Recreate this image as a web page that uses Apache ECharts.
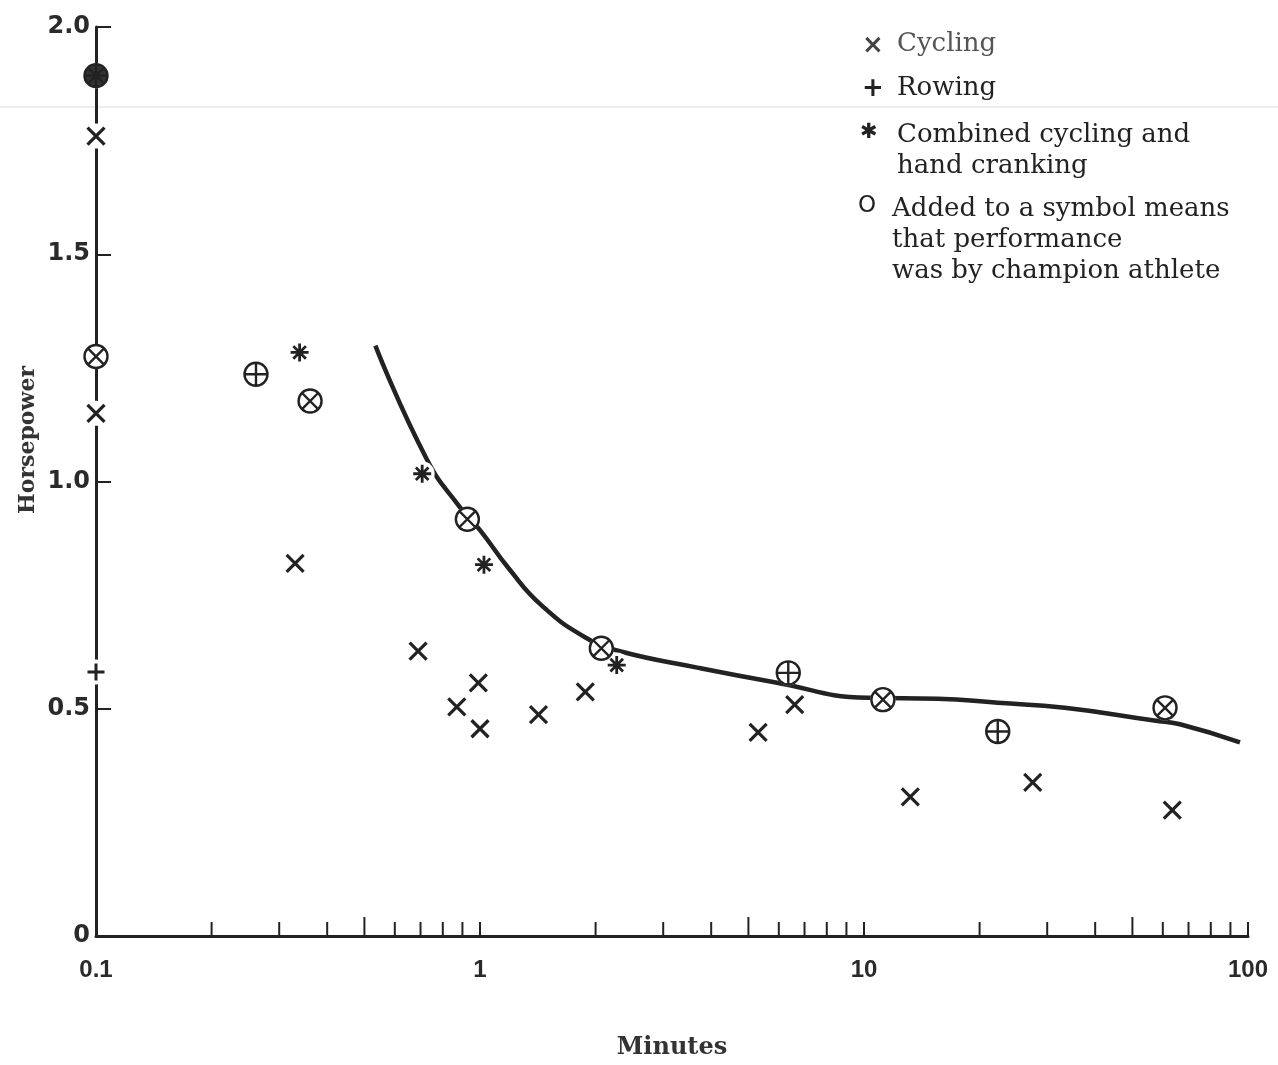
<!DOCTYPE html>
<html>
<head>
<meta charset="utf-8">
<script src="https://cdn.jsdelivr.net/npm/echarts@6/dist/echarts.min.js"></script>
<style>
  html, body { margin: 0; padding: 0; background: #fff; }
  #chart { width: 1278px; height: 1065px; }
</style>
</head>
<body>
<div id="chart"></div>
<script>
// values: [minutes, horsepower]
var cycling = [
	[0.1, 1.76], [0.1, 1.15], [0.33, 0.82], [0.69, 0.627], [0.87, 0.504],
	[0.99, 0.557], [1.0, 0.456], [1.42, 0.487], [1.88, 0.537], [5.3, 0.448],
	[6.6, 0.509], [13.2, 0.306], [27.5, 0.338], [63.5, 0.277]
];
var rowing = [[0.1, 0.581]];
var combined = [[0.339, 1.284], [0.707, 1.017], [1.024, 0.817], [2.27, 0.596]];
var champCycling = [
	[0.1, 1.275], [0.361, 1.177], [0.927, 0.917], [2.07, 0.633], [11.2, 0.52], [60.8, 0.502]
];
var champRowing = [[0.261, 1.236], [6.35, 0.579], [22.3, 0.45]];
var champCombined = [[0.1, 1.893]];

// the hand-drawn trend curve
var curveX = [0.534, 0.728, 0.882, 1.0, 1.19, 1.449, 1.897, 2.3, 3.71, 5.8, 10.24, 15.56, 22.3, 33.3, 57.0, 66.5, 95.3];
var curveY = [1.299, 1.048, 0.946, 0.893, 0.808, 0.727, 0.655, 0.627, 0.59, 0.559, 0.524, 0.522, 0.513, 0.502, 0.474, 0.466, 0.426];

var yTicks = [0, 0.5, 1.0, 1.5, 2.0];
var minorTicks = [0.2, 0.3, 0.4, 0.5, 0.6, 0.7, 0.8, 0.9, 2, 3, 4, 5, 6, 7, 8, 9, 20, 30, 40, 50, 60, 70, 80, 90];

var ink = '#222';
var ring = 'M0,10A10,10,0,1,1,20,10A10,10,0,1,1,0,10Z';
var crossPath = 'path://M0,0L20,20M20,0L0,20';
var plusPath = 'path://M10,0L10,20M0,10L20,10';
var starPath = 'path://M10,0L10,20M0,10L20,10M3,3L17,17M17,3L3,17';
var ringCross = 'path://' + ring + 'M3,3L17,17M17,3L3,17';
var ringPlus = 'path://' + ring + 'M10,0L10,20M0,10L20,10';
var ringStar = 'path://' + ring + 'M10,0L10,20M0,10L20,10M3,3L17,17M17,3L3,17';

var curve = curveX.map(function (x, i) { return [x, curveY[i]]; });
var allPoints = [].concat(cycling, rowing, combined, champCycling, champRowing, champCombined);

function marks(name, data, symbol, size, width, fill) {
	return {
		name: name,
		type: 'scatter',
		data: data,
		symbol: symbol,
		symbolSize: size,
		z: 5,
		silent: true,
		itemStyle: { color: fill || '#fff', borderColor: ink, borderWidth: width, opacity: 1 }
	};
}

var myChart = echarts.init(document.getElementById('chart'));
var option = {
	backgroundColor: '#fff',
	animation: false,
	grid: { left: 96, right: 30, top: 27, bottom: 122 },
	xAxis: {
		type: 'log',
		logBase: 10,
		min: 0.1,
		max: 100,
		name: 'Minutes',
		nameLocation: 'middle',
		nameGap: 100,
		nameTextStyle: { fontFamily: 'DejaVu Serif', fontSize: 24, fontWeight: 'bold', color: '#333' },
		axisLine: { lineStyle: { color: ink, width: 3 } },
		axisTick: { show: true, inside: true, length: 14, lineStyle: { color: ink, width: 2 } },
		axisLabel: {
			margin: 22,
			fontFamily: 'Liberation Sans',
			fontWeight: 'bold',
			fontSize: 24,
			color: '#2a2a2a',
			formatter: function (v) { return String(+v.toPrecision(3)); }
		},
		splitLine: { show: false }
	},
	yAxis: {
		type: 'value',
		min: 0,
		max: 2,
		interval: 0.5,
		axisLine: { lineStyle: { color: ink, width: 3 } },
		axisTick: { show: true, inside: true, length: 15, lineStyle: { color: ink, width: 2 } },
		axisLabel: {
			margin: 6,
			fontFamily: 'DejaVu Sans',
			fontWeight: 'bold',
			fontSize: 24,
			color: '#2a2a2a',
			formatter: function (v) { return v === 0 ? '0' : v.toFixed(1); }
		},
		splitLine: { show: false }
	},
	graphic: [
		{ type: 'line', z: -1, silent: true, shape: { x1: 0, y1: 107, x2: 1278, y2: 107 }, style: { stroke: '#dcdcdc', lineWidth: 1 } },
		{ type: 'text', x: 28, y: 440, rotation: Math.PI / 2, style: { text: 'Horsepower', font: 'bold 22px DejaVu Serif', fill: '#333', align: 'center', verticalAlign: 'middle' } },
		{ type: 'text', left: 862, top: 33, style: { text: '×', font: 'bold 26px DejaVu Sans', fill: '#444' } },
		{ type: 'text', left: 897, top: 31, style: { text: 'Cycling', font: '26px DejaVu Serif', fill: '#555' } },
		{ type: 'text', left: 862, top: 76, style: { text: '+', font: 'bold 26px DejaVu Sans', fill: ink } },
		{ type: 'text', left: 897, top: 75, style: { text: 'Rowing', font: '26px DejaVu Serif', fill: ink } },
		{ type: 'text', left: 860, top: 122, style: { text: '✱', font: '21px DejaVu Sans', fill: ink } },
		{ type: 'text', left: 897, top: 120, style: { text: 'Combined cycling and\nhand cranking', font: '26px DejaVu Serif', lineHeight: 31, fill: ink } },
		{ type: 'text', left: 858, top: 195, style: { text: 'O', font: '23px DejaVu Sans', fill: ink } },
		{ type: 'text', left: 892, top: 194, style: { text: 'Added to a symbol means\nthat performance\nwas by champion athlete', font: '26px DejaVu Serif', lineHeight: 31, fill: ink } }
	],
	series: [
		{
			name: 'Fit',
			type: 'line',
			data: curve,
			smooth: 0.5,
			showSymbol: false,
			silent: true,
			z: 2,
			lineStyle: { color: ink, width: 4.5 }
		},
		{
			// white halo so the curve and the axis break around each symbol
			name: 'mask',
			type: 'scatter',
			data: allPoints,
			symbol: 'circle',
			symbolSize: 25,
			silent: true,
			z: 4,
			itemStyle: { color: '#fff', opacity: 1 }
		},
		{
			name: 'minor ticks',
			type: 'custom',
			silent: true,
			z: 3,
			data: minorTicks.map(function (v) { return [v, 0]; }),
			renderItem: function (params, api) {
				var v = api.value(0);
				var p = api.coord([v, 0]);
				var lead = v / Math.pow(10, Math.floor(Math.log10(v) + 1e-9));
				var len = Math.abs(lead - 5) < 1e-6 ? 19 : 14;
				return {
					type: 'line',
					shape: { x1: p[0], y1: p[1], x2: p[0], y2: p[1] - len },
					style: { stroke: ink, lineWidth: 2 }
				};
			}
		},
		marks('Cycling', cycling, crossPath, 17, 3.2),
		marks('Rowing', rowing, plusPath, 17, 3),
		marks('Combined cycling and hand cranking', combined, starPath, 18, 2.8),
		marks('Cycling (champion)', champCycling, ringCross, 23, 2.4),
		marks('Rowing (champion)', champRowing, ringPlus, 23, 2.4),
		marks('Combined (champion)', champCombined, ringStar, 23, 2.4, '#333')
	]
};
myChart.setOption(option);
</script>
</body>
</html>
